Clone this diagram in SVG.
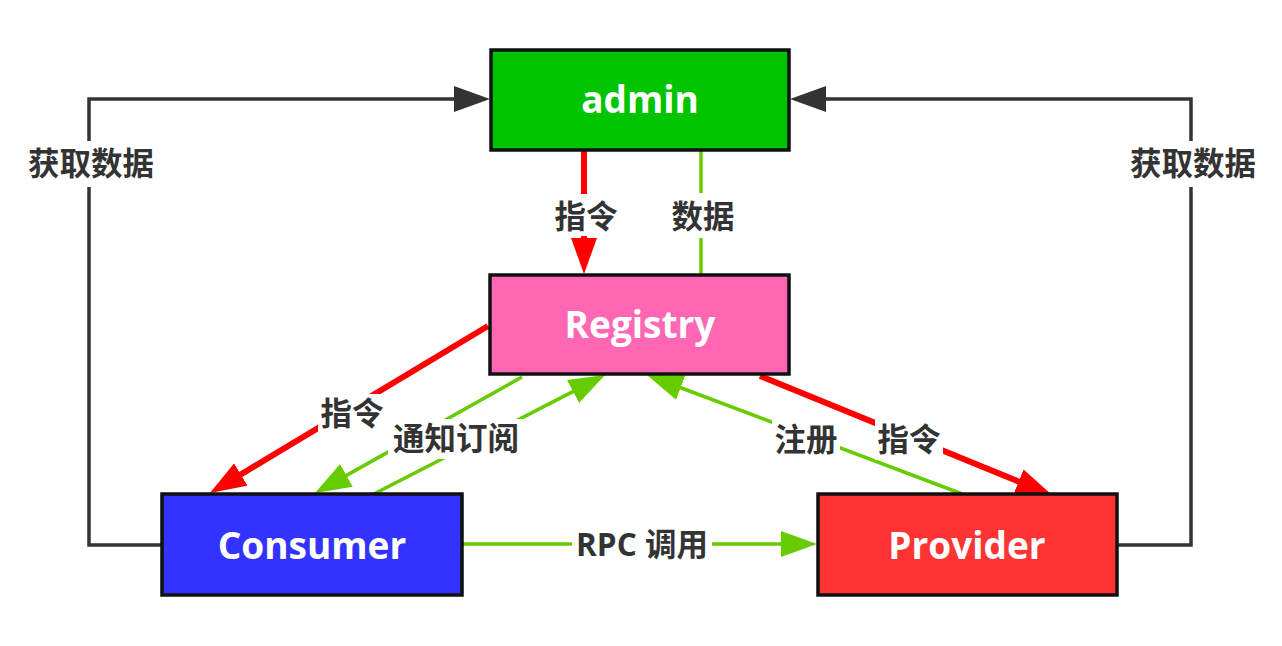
<svg xmlns="http://www.w3.org/2000/svg" width="1282" height="646" viewBox="0 0 1282 646">
<defs>
<style>
.node{stroke:#111;stroke-width:3.5}
.nlabel{font-family:"Open Sans","Noto Sans CJK SC",sans-serif;font-weight:700;font-size:37px;fill:#fff;text-anchor:middle}
.lbl{font-family:"Open Sans","Noto Sans CJK SC",sans-serif;font-weight:700;font-size:31.5px;fill:#333;text-anchor:middle}
.bg{fill:#fff}
.gray{fill:none;stroke:#333;stroke-width:3.5}
.red{fill:none;stroke:#ff0000;stroke-width:6}
.green{fill:none;stroke:#66cc00;stroke-width:3.5}
</style>
<marker id="ag" markerUnits="userSpaceOnUse" markerWidth="36" markerHeight="26" refX="2" refY="13" orient="auto" viewBox="0 0 36 26"><path d="M0,0 L36,13 L0,26 z" fill="#333"/></marker>
<marker id="ar" markerUnits="userSpaceOnUse" markerWidth="36" markerHeight="26" refX="2" refY="13" orient="auto" viewBox="0 0 36 26"><path d="M0,0 L36,13 L0,26 z" fill="#ff0000"/></marker>
<marker id="agr" markerUnits="userSpaceOnUse" markerWidth="36" markerHeight="26" refX="2" refY="13" orient="auto" viewBox="0 0 36 26"><path d="M0,0 L36,13 L0,26 z" fill="#66cc00"/></marker>
</defs>
<rect width="1282" height="646" fill="#fff"/>
<g id="connectors">
<path class="gray" d="M162,545 L89,545 L89,99 L456,99" marker-end="url(#ag)"/>
<path class="gray" d="M1117,545 L1191,545 L1191,99 L824,99" marker-end="url(#ag)"/>
<path class="red" d="M584,151 L584,240" marker-end="url(#ar)"/>
<path class="green" d="M701,151 L701,276"/>
<path class="red" d="M488,326 L239.1,475.5" marker-end="url(#ar)"/>
<path class="red" d="M760,376 L1020.5,482.2" marker-end="url(#ar)"/>
<path class="green" d="M522,377 L344.7,476.4" marker-end="url(#agr)"/>
<path class="green" d="M370,496 L574.8,390.6" marker-end="url(#agr)"/>
<path class="green" d="M965,495 L678.8,387" marker-end="url(#agr)"/>
<path class="green" d="M463,544 L783,544" marker-end="url(#agr)"/>
<rect class="bg" x="24" y="141" width="134" height="46"/>
<rect class="bg" x="1126" y="141" width="134" height="46"/>
<rect class="bg" x="552" y="194" width="68" height="42"/>
<rect class="bg" x="669" y="193" width="68" height="45"/>
<rect class="bg" x="318" y="394" width="68" height="40"/>
<rect class="bg" x="388" y="419" width="136" height="40"/>
<rect class="bg" x="772" y="420" width="68" height="40"/>
<rect class="bg" x="875" y="420" width="68" height="40"/>
<rect class="bg" x="572" y="524" width="140" height="40"/>
<text class="lbl" x="91" y="175">获取数据</text>
<text class="lbl" x="1193" y="175">获取数据</text>
<text class="lbl" x="586" y="228">指令</text>
<text class="lbl" x="703" y="228">数据</text>
<text class="lbl" x="352" y="425">指令</text>
<text class="lbl" x="456" y="450">通知订阅</text>
<text class="lbl" x="806" y="451">注册</text>
<text class="lbl" x="909" y="451">指令</text>
<text class="lbl" x="642" y="556">RPC 调用</text>
</g>
<g id="admin">
<rect class="node" x="491" y="50" width="298" height="100" fill="#00c400"/>
<text class="nlabel" x="640" y="113">admin</text>
</g>
<g id="registry">
<rect class="node" x="490" y="275" width="299" height="99" fill="#ff66b3"/>
<text class="nlabel" x="640" y="338">Registry</text>
</g>
<g id="consumer">
<rect class="node" x="162" y="494" width="300" height="101" fill="#3333ff"/>
<text class="nlabel" x="312" y="559">Consumer</text>
</g>
<g id="provider">
<rect class="node" x="818" y="494" width="299" height="101" fill="#ff3333"/>
<text class="nlabel" x="967" y="559">Provider</text>
</g>
</svg>
